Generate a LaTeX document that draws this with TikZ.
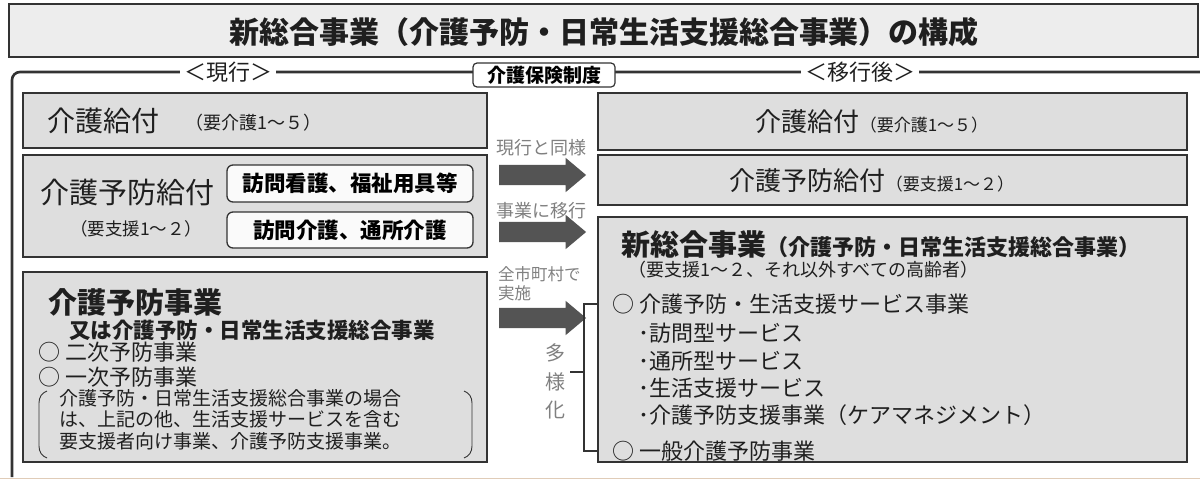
\documentclass[tikz,border=0pt]{standalone}
\usepackage{fontspec}
\setmainfont{Noto Sans CJK JP}
\usetikzlibrary{shapes.arrows}
\definecolor{boxfill}{gray}{0.87}
\definecolor{edge}{gray}{0.2}
\definecolor{faint}{gray}{0.5}
\definecolor{arrowc}{gray}{0.33}
\newcommand\myfs[1]{\fontsize{#1}{#1}\selectfont}
\begin{document}
\begin{tikzpicture}[x=1pt,y=-1pt,
  panel/.style={draw=edge, line width=1.8pt, fill=boxfill, inner sep=0pt},
  innerbox/.style={draw=edge, line width=1.3pt, fill=gray!4, rounded corners=6pt, inner sep=0pt},
  txt/.style={inner sep=0pt, text=black!88},
  blk/.style={single arrow, draw=none, fill=arrowc, minimum height=87pt, minimum width=0pt,
    inner xsep=0pt, inner ysep=10pt, single arrow head extend=7pt, single arrow tip angle=80},
  mid/.style={inner sep=0pt, text=faint}
]
\useasboundingbox (0,0) rectangle (1200,479);
\fill[white] (0,0) rectangle (1200,479);

% title
\node[panel, fill=gray!14, line width=1.5pt, minimum width=1189pt, minimum height=53pt] (title) at (603.5,30.5) {};
\node[txt] (titletext) at (604,32) {\myfs{30}\bfseries 新総合事業（介護予防・日常生活支援総合事業）の構成};

% outer frame
\draw[edge, line width=2.6pt, rounded corners=8pt] (12,477) -- (12,72) -- (1200,72);
\draw[orange!40!gray!40, line width=1pt] (0,478) -- (1200,478);
\node[txt, fill=white, inner xsep=4pt, inner ysep=2pt] (now) at (228,72) {\myfs{22}＜現行＞};
\node[fill=white, draw=edge, rounded corners=4pt, line width=1.2pt, minimum width=142pt, minimum height=24pt, inner sep=0pt] (hoken) at (544,75) {\myfs{19}\bfseries 介護保険制度};
\node[txt, fill=white, inner xsep=4pt, inner ysep=2pt] (after) at (860,72) {\myfs{22}＜移行後＞};

% left boxes
\node[panel, minimum width=464pt, minimum height=55pt] (kyufuL) at (255,120.5) {};
\node[txt, anchor=west] (kyufuLt) at (47,121) {\myfs{28}介護給付};
\node[txt, anchor=west] (kyufuLs) at (185,123) {\myfs{18}（要介護1～５）};

\node[panel, minimum width=464pt, minimum height=102pt] (yoboL) at (255,206) {};
\node[txt, anchor=west] (yoboLt) at (40,192) {\myfs{29}介護予防給付};
\node[txt, anchor=west] (yoboLs) at (70,229) {\myfs{17.5}（要支援1～２）};
\node[innerbox, minimum width=246pt, minimum height=37pt] (in1) at (350,183.5) {\myfs{21.5}\bfseries 訪問看護、福祉用具等};
\node[innerbox, minimum width=246pt, minimum height=36pt] (in2) at (350,230) {\myfs{21.5}\bfseries 訪問介護、通所介護};

\node[panel, minimum width=464pt, minimum height=190pt] (jigyoL) at (255,367) {};
\node[txt, anchor=west] (jL1) at (48,302) {\myfs{29}\bfseries 介護予防事業};
\node[txt, anchor=west] (jL2) at (69,330) {\myfs{21.5}\bfseries 又は介護予防・日常生活支援総合事業};
\node[txt, anchor=west] (jL3) at (38,352) {\myfs{22}○ 二次予防事業};
\node[txt, anchor=west] (jL4) at (38,377) {\myfs{22}○ 一次予防事業};
\node[txt, anchor=west] (jL5) at (59,398) {\myfs{19}介護予防・日常生活支援総合事業の場合};
\node[txt, anchor=west] (jL6) at (59,419) {\myfs{19}は、上記の他、生活支援サービスを含む};
\node[txt, anchor=west] (jL7) at (59,441) {\myfs{19}要支援者向け事業、介護予防支援事業。};
\draw[edge, line width=0.9pt] (47,391) to[out=200,in=90] (39,403) -- (39,446) to[out=-90,in=160] (47,458);
\draw[edge, line width=0.9pt] (464,391) to[out=-20,in=90] (472,403) -- (472,446) to[out=-90,in=20] (464,458);

% middle
\node[mid, anchor=west] (m1) at (496,148) {\myfs{18}現行と同様};
\node[blk] (a1) at (536.5,175) {};
\node[mid, anchor=west] (m2) at (496,211) {\myfs{18}事業に移行};
\node[blk] (a2) at (536.5,232) {};
\node[mid, anchor=west] (m3) at (498,274) {\myfs{16.5}全市町村で};
\node[mid, anchor=west] (m4) at (498,293) {\myfs{16.5}実施};
\node[blk] (a3) at (536.5,318) {};
\node[mid] (d1) at (555,353) {\myfs{20}多};
\node[mid] (d2) at (555,382) {\myfs{20}様};
\node[mid] (d3) at (555,410) {\myfs{20}化};

% right boxes
\node[panel, minimum width=589pt, minimum height=57pt] (kyufuR) at (892.5,121.5) {};
\node[txt] (kyufuRt) at (872,122) {\myfs{26}介護給付\myfs{17}（要介護1～５）};
\node[panel, minimum width=589pt, minimum height=50pt] (yoboR) at (892.5,180) {};
\node[txt] (yoboRt) at (872,181) {\myfs{26}介護予防給付\myfs{17}（要支援1～２）};
\node[panel, minimum width=589pt, minimum height=245pt] (sogo) at (892.5,339.5) {};
\node[txt, anchor=west] (s1) at (621,245) {\myfs{29}\bfseries 新総合事業\myfs{22}（介護予防・日常生活支援総合事業）};
\node[txt, anchor=west] (s2) at (628,270) {\myfs{18}（要支援1～２、それ以外すべての高齢者）};
\node[txt, anchor=west] (s3) at (612,304) {\myfs{22}○ 介護予防・生活支援サービス事業};
\node[txt, anchor=west] (s4) at (638,333) {\myfs{22}･訪問型サービス};
\node[txt, anchor=west] (s5) at (638,361) {\myfs{22}･通所型サービス};
\node[txt, anchor=west] (s6) at (638,388) {\myfs{22}･生活支援サービス};
\node[txt, anchor=west] (s7) at (638,415) {\myfs{22}･介護予防支援事業（ケアマネジメント）};
\node[txt, anchor=west] (s8) at (612,451) {\myfs{22}○ 一般介護予防事業};

% bracket
\coordinate (bt) at (sogo.west |- s3.west);
\coordinate (bb) at (sogo.west |- s8.west);
\coordinate (bm) at (570,372);
\draw[edge, line width=1.6pt] (bt) -- (584,304) -- (584,451) -- (bb);
\draw[edge, line width=1.6pt] (584,372) -- (bm);
\end{tikzpicture}
\end{document}
